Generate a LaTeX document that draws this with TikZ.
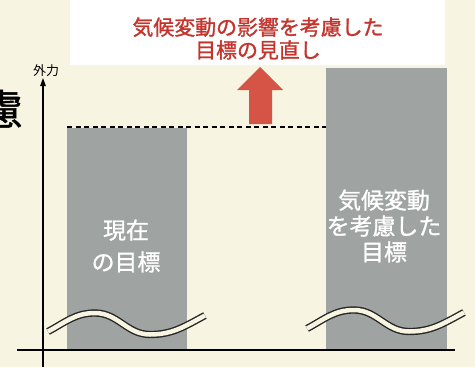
\documentclass[tikz,border=0pt]{standalone}
\usepackage{fontspec}
\setmainfont{Noto Sans CJK JP}
\newfontfamily\jpbold{Noto Sans CJK JP}[FakeBold=1.2]
\usetikzlibrary{arrows.meta}
\definecolor{cream}{RGB}{247,245,226}
\definecolor{bargray}{RGB}{159,163,162}
\definecolor{titlered}{RGB}{196,52,44}
\definecolor{arrowred}{RGB}{214,84,70}
\tikzset{
  bartext/.style={white, align=center, inner sep=0},
  wave/.style={draw=black!85, line width=1.4bp, double=cream, double distance=4.5bp},
}
\begin{document}
\begin{tikzpicture}[x=1bp, y=1bp]
    \useasboundingbox (0,0) rectangle (475,367);
    \fill[cream] (0,0) rectangle (475,367);
    \fill[white] (70,302) rectangle (445,367);
    
    % heading cut off at the left edge
    \node[anchor=east, inner sep=0, font=\jpbold\fontsize{42}{42}\selectfont] (cut) at (23,258) {慮};
    
    \node[titlered, align=center, font=\jpbold\fontsize{21}{23}\selectfont] (goal) at (258,328.5)
        {気候変動の影響を考慮した\\目標の見直し};
    
    % bars
    \fill[bargray] (67,17) rectangle (187,239);
    \fill[bargray] (326,17) rectangle (447,299);
    \draw[dashed, line width=1.3bp, dash pattern=on 5bp off 3.5bp] (67,240) -- (326,240);
    
    % axes
    \coordinate (o) at (43,17);
    \coordinate (ytop) at (43,289);
    \coordinate (ybot) at (43,0);
    \coordinate (xl) at (17,17);
    \coordinate (xr) at (455,17);
    \draw[line width=1.1bp, -{Triangle[length=8bp, width=5.5bp]}] (ybot) -- (ytop);
    \draw[line width=1.3bp] (xl) -- (xr);
    \node[above, inner sep=1bp, font=\fontsize{13}{13}\selectfont] (force) at (ytop -| 46,0) {外力};
    
    % upward arrow
    \fill[arrowred] (249,243) -- (249,277) -- (237,277) -- (260,300)
        -- (283,277) -- (272,277) -- (272,243) -- cycle;
    
    % breaks
    \foreach \dx/\dy in {0/0, 259/3}
        \draw[wave, shift={(\dx,\dy)}] (48,35.5) to[out=28, in=180] (95,54)
            to[out=0, in=180] (150,32.5) to[out=0, in=208] (205,51.5);
    
    \node[bartext, font=\jpbold\fontsize{23}{32}\selectfont] (now) at (126,121) {現在\\の目標};
    \node[bartext, font=\jpbold\fontsize{23}{26}\selectfont] (new) at (384,141) {気候変動\\を考慮した\\目標};
\end{tikzpicture}
\end{document}
